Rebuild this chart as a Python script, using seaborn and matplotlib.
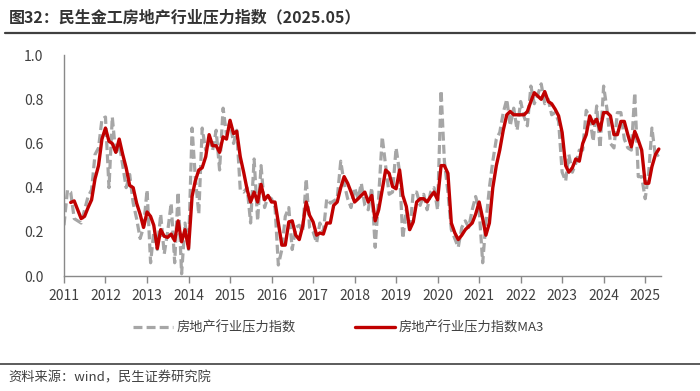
"""民生金工房地产行业压力指数 (2025.05) - line chart recreation."""

import matplotlib

matplotlib.use("Agg")
import matplotlib.pyplot as plt
import pandas as pd
import seaborn as sns
from matplotlib.lines import Line2D


TITLE = "图32：民生金工房地产行业压力指数（2025.05）"
SOURCE = "资料来源：wind，民生证券研究院"
RAW_LABEL = "房地产行业压力指数"
MA_LABEL = "房地产行业压力指数MA3"
START_MONTH = "2011-01"
YEAR_TICKS = list(range(2011, 2026))
Y_TICKS = [0.0, 0.2, 0.4, 0.6, 0.8, 1.0]

# monthly raw index, 2011-01 .. 2025-05
raw_index = [
    0.23, 0.39, 0.38, 0.26, 0.25, 0.24, 0.30, 0.36, 0.39, 0.55, 0.58, 0.71,  # 2011
    0.72, 0.40, 0.72, 0.55, 0.60, 0.50, 0.40, 0.46, 0.33, 0.26, 0.17, 0.22,  # 2012
    0.39, 0.06, 0.20, 0.12, 0.28, 0.10, 0.20, 0.33, 0.06, 0.38, 0.01, 0.24,  # 2013
    0.12, 0.67, 0.45, 0.28, 0.67, 0.57, 0.62, 0.57, 0.66, 0.48, 0.76, 0.64,  # 2014
    0.70, 0.60, 0.66, 0.39, 0.38, 0.40, 0.24, 0.53, 0.25, 0.50, 0.31, 0.36,  # 2015
    0.35, 0.31, 0.05, 0.12, 0.27, 0.31, 0.12, 0.22, 0.23, 0.20, 0.44, 0.22,  # 2016
    0.20, 0.15, 0.24, 0.20, 0.35, 0.33, 0.34, 0.35, 0.52, 0.42, 0.35, 0.31,  # 2017
    0.40, 0.35, 0.42, 0.32, 0.30, 0.40, 0.13, 0.36, 0.63, 0.50, 0.37, 0.38,  # 2018
    0.58, 0.47, 0.17, 0.30, 0.20, 0.38, 0.38, 0.32, 0.37, 0.30, 0.38, 0.40,  # 2019
    0.30, 0.84, 0.52, 0.38, 0.21, 0.17, 0.13, 0.22, 0.25, 0.22, 0.30, 0.36,  # 2020
    0.30, 0.06, 0.24, 0.40, 0.52, 0.62, 0.65, 0.74, 0.80, 0.68, 0.76, 0.66,  # 2021
    0.79, 0.72, 0.68, 0.86, 0.78, 0.82, 0.87, 0.78, 0.80, 0.73, 0.74, 0.70,  # 2022
    0.47, 0.43, 0.55, 0.47, 0.51, 0.57, 0.57, 0.75, 0.72, 0.61, 0.77, 0.58,  # 2023
    0.86, 0.75, 0.60, 0.58, 0.74, 0.74, 0.62, 0.58, 0.57, 0.83, 0.45, 0.45,  # 2024
    0.35, 0.47, 0.67, 0.54, 0.55,  # 2025
]

# three-month moving average, starts at 2011-03
ma3_index = [
    0.333, 0.340, 0.300, 0.260, 0.270, 0.310, 0.345, 0.440, 0.500, 0.620,  # 2011
    0.670, 0.610, 0.600, 0.560, 0.620, 0.550, 0.490, 0.410, 0.400, 0.330, 0.280, 0.220,  # 2012
    0.290, 0.270, 0.230, 0.125, 0.210, 0.180, 0.175, 0.190, 0.160, 0.250, 0.155, 0.210,  # 2013
    0.125, 0.360, 0.430, 0.480, 0.490, 0.540, 0.640, 0.590, 0.590, 0.560, 0.630, 0.620,  # 2014
    0.705, 0.645, 0.655, 0.540, 0.470, 0.390, 0.335, 0.380, 0.335, 0.415, 0.345, 0.365,  # 2015
    0.335, 0.335, 0.240, 0.140, 0.140, 0.245, 0.250, 0.185, 0.165, 0.225, 0.335, 0.275,  # 2016
    0.245, 0.185, 0.195, 0.190, 0.240, 0.240, 0.320, 0.335, 0.400, 0.450, 0.420, 0.380,  # 2017
    0.335, 0.350, 0.365, 0.380, 0.335, 0.365, 0.250, 0.300, 0.390, 0.480, 0.465, 0.405,  # 2018
    0.395, 0.480, 0.365, 0.315, 0.210, 0.245, 0.335, 0.350, 0.350, 0.335, 0.360, 0.380,  # 2019
    0.345, 0.500, 0.500, 0.465, 0.240, 0.195, 0.165, 0.185, 0.210, 0.225, 0.240, 0.280,  # 2020
    0.335, 0.260, 0.185, 0.240, 0.400, 0.500, 0.570, 0.660, 0.730, 0.745, 0.730, 0.730,  # 2021
    0.730, 0.730, 0.745, 0.790, 0.830, 0.815, 0.800, 0.835, 0.790, 0.780, 0.755, 0.725,  # 2022
    0.650, 0.500, 0.470, 0.490, 0.530, 0.520, 0.600, 0.640, 0.725, 0.690, 0.710, 0.660,  # 2023
    0.740, 0.740, 0.725, 0.640, 0.640, 0.700, 0.700, 0.640, 0.585, 0.655, 0.615, 0.570,  # 2024
    0.420, 0.420, 0.495, 0.550, 0.575,  # 2025
]

GRAY = "#A6A6A6"
RED = "#C00000"
AXIS_GRAY = "#898989"
TEXT_GRAY = "#404040"
CJK = ["Noto Sans CJK SC", "DejaVu Sans"]
DASH = (0, (2.8, 1.3))


def main() -> None:
    sns.set_theme(style="white")
    plt.rcParams["font.family"] = CJK

    months = pd.date_range(START_MONTH, periods=len(raw_index), freq="MS")
    raw_df = pd.DataFrame({"month": months, "value": raw_index})
    ma_df = pd.DataFrame({"month": months[len(raw_index) - len(ma3_index):], "value": ma3_index})

    fig = plt.figure(figsize=(7.0, 3.91), dpi=100)
    ax = fig.add_axes([0.0914, 0.294, 0.8529, 0.565])

    sns.lineplot(data=raw_df, x="month", y="value", ax=ax, color=GRAY,
                 linewidth=2.3, linestyle=DASH)
    sns.lineplot(data=ma_df, x="month", y="value", ax=ax, color=RED, linewidth=2.4)

    ax.set_xlim(pd.Timestamp("2011-01-01"), pd.Timestamp("2025-05-20"))
    ax.set_ylim(0, 1.0)
    ax.set_yticks(Y_TICKS)
    ax.set_yticklabels([f"{v:.1f}" for v in Y_TICKS])
    ax.set_xticks([pd.Timestamp(f"{y}-01-01") for y in YEAR_TICKS])
    ax.set_xticklabels([str(y) for y in YEAR_TICKS])
    ax.set_xlabel("")
    ax.set_ylabel("")

    for side in ("top", "right"):
        ax.spines[side].set_visible(False)
    for side in ("left", "bottom"):
        ax.spines[side].set_color(AXIS_GRAY)
        ax.spines[side].set_linewidth(1.0)
    ax.tick_params(axis="x", bottom=True, length=5, width=1.0, color=AXIS_GRAY,
                   labelsize=10, labelcolor=TEXT_GRAY, pad=4)
    ax.tick_params(axis="y", left=False, labelsize=10, labelcolor=TEXT_GRAY, pad=9)

    handles = [
        Line2D([], [], color=GRAY, linewidth=2.3, linestyle=DASH),
        Line2D([], [], color=RED, linewidth=2.4),
    ]
    fig.legend(handles, [RAW_LABEL, MA_LABEL], loc="center", ncol=2,
               bbox_to_anchor=(0.484, 0.161), frameon=False, fontsize=9.5,
               handlelength=3.0, handletextpad=0.3, columnspacing=4.5,
               labelcolor=TEXT_GRAY)

    fig.text(0.012, 0.955, TITLE, fontsize=11.5, fontweight="bold", color="#333333",
             va="center", ha="left")
    fig.add_artist(Line2D([0.007, 0.993], [0.915, 0.915], color="#404040",
                          linewidth=1.6, transform=fig.transFigure))
    fig.add_artist(Line2D([0.0, 1.0], [0.07, 0.07], color="#404040",
                          linewidth=1.2, transform=fig.transFigure))
    fig.text(0.012, 0.033, SOURCE, fontsize=9.5, color=TEXT_GRAY, va="center", ha="left")

    fig.savefig("out.png", dpi=100)
    plt.close(fig)


if __name__ == "__main__":
    main()
